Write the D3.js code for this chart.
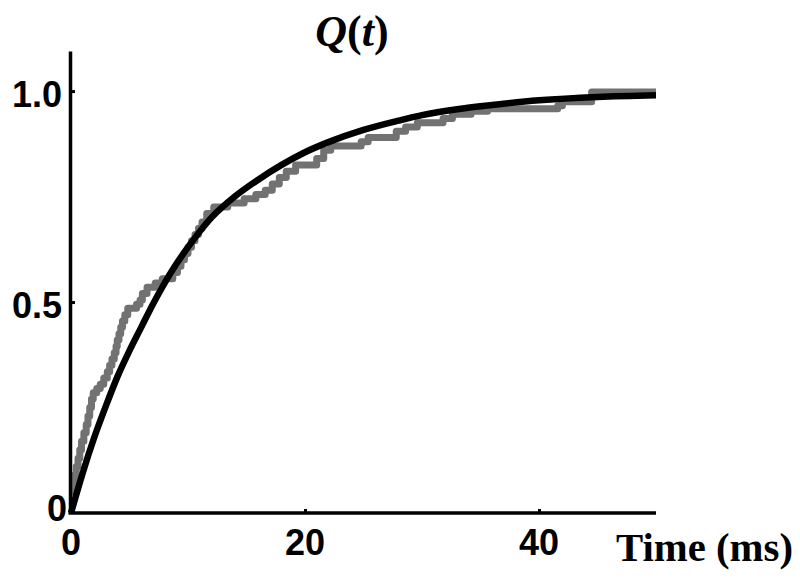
<!DOCTYPE html>
<html>
  <head>
    <script src="https://d3js.org/d3.v7.min.js"></script>
    <style>
      body { margin: 0; background: #fff; }
    </style>
  </head>
  <body>
    <script>

    // fitted curve
    const fitTime = [0, 1, 2, 3, 4, 5, 6, 7, 8, 9, 10, 12, 14, 16, 18, 20, 22, 25, 28, 30, 33, 36, 40, 45, 50];
    const fitQ = [0, 0.095, 0.18, 0.255, 0.325, 0.385, 0.44, 0.495, 0.545, 0.59, 0.63, 0.7, 0.75, 0.79, 0.825, 0.855, 0.879, 0.908, 0.93, 0.943, 0.957, 0.967, 0.978, 0.986, 0.99];

    // empirical distribution, step corners
    const stepTime = [0, 0.15, 0.3, 0.45, 0.6, 0.75, 0.9, 1.1, 1.3, 1.45, 1.6, 1.75, 1.9, 2.2, 2.5, 2.8, 3.1, 3.3, 3.5, 3.7, 3.85, 3.95, 4.1, 4.25, 4.4, 4.6, 4.85, 5.6, 5.9, 6.1, 6.5, 7.2, 7.8, 8.7, 9.1, 9.4, 9.7, 10.0, 10.3, 10.6, 10.9, 11.2, 11.6, 12.2, 13.4, 14.8, 15.8, 16.6, 17.2, 17.8, 18.4, 19.2, 21.0, 21.6, 22.2, 24.8, 25.4, 27.8, 28.6, 29.6, 31.8, 32.6, 34.2, 35.6, 41.6, 42.0, 44.5, 50];
    const stepQ = [0.05, 0.07, 0.09, 0.11, 0.13, 0.15, 0.17, 0.19, 0.21, 0.23, 0.25, 0.27, 0.285, 0.295, 0.305, 0.32, 0.335, 0.35, 0.365, 0.38, 0.395, 0.41, 0.425, 0.44, 0.455, 0.47, 0.485, 0.495, 0.505, 0.52, 0.535, 0.545, 0.555, 0.57, 0.585, 0.6, 0.615, 0.63, 0.645, 0.66, 0.675, 0.69, 0.71, 0.725, 0.735, 0.745, 0.755, 0.765, 0.78, 0.795, 0.81, 0.825, 0.84, 0.86, 0.87, 0.88, 0.89, 0.905, 0.915, 0.925, 0.935, 0.945, 0.952, 0.958, 0.965, 0.975, 0.998, 0.998];

    const xTicks = [0, 20, 40];
    const yTicks = [0, 0.5, 1.0];
    const yTickLabels = ["0", "0.5", "1.0"];

    const width = 800, height = 580;

    const x = d3.scaleLinear().domain([0, 50]).range([71, 656]);
    const y = d3.scaleLinear().domain([0, 1.095]).range([513, 51]);

    const svg = d3.select("body").append("svg")
        .attr("width", width)
        .attr("height", height);

    const fit = fitTime.map((t, i) => [t, fitQ[i]]);
    const steps = stepTime.map((t, i) => [t, stepQ[i]]);

    // gray data first, black fit on top
    svg.append("path")
        .datum(steps)
        .attr("fill", "none")
        .attr("stroke", "#727272")
        .attr("stroke-width", 7)
        .attr("stroke-linejoin", "round")
        .attr("d", d3.line().x(d => x(d[0])).y(d => y(d[1])).curve(d3.curveStepAfter));

    svg.append("path")
        .datum(fit)
        .attr("fill", "none")
        .attr("stroke", "#000")
        .attr("stroke-width", 6.5)
        .attr("d", d3.line().x(d => x(d[0])).y(d => y(d[1])).curve(d3.curveMonotoneX));

    // axes
    const xAxis = svg.append("g")
        .attr("transform", `translate(0,${y(0)})`)
        .call(d3.axisBottom(x).tickValues(xTicks.filter(d => d > 0)).tickSize(-4).tickSizeOuter(0).tickFormat(""));
    const yAxis = svg.append("g")
        .attr("transform", `translate(${x(0) - 1},0)`)
        .call(d3.axisLeft(y).tickValues(yTicks.filter(d => d > 0)).tickSize(-5).tickSizeOuter(0).tickFormat(""));

    [xAxis, yAxis].forEach(g => {
      g.select(".domain").attr("stroke", "#000").attr("stroke-width", 3.5);
      g.selectAll(".tick line").attr("stroke", "#000").attr("stroke-width", 3);
    });
    xAxis.select(".domain").attr("d", `M${x(0) - 2.5},0H${x(50)}`);

    svg.append("g")
        .selectAll("text")
        .data(xTicks)
        .join("text")
        .attr("x", d => x(d))
        .attr("y", 555)
        .attr("text-anchor", "middle")
        .attr("font-family", "'Liberation Sans', Arial, sans-serif")
        .attr("font-weight", "bold")
        .attr("font-size", 36)
        .text(d => d);

    svg.append("g")
        .selectAll("text")
        .data(yTicks)
        .join("text")
        .attr("x", d => d === 0 ? 67 : 62)
        .attr("y", d => y(d) + (d === 0 ? -5 : 3))
        .attr("dy", "0.35em")
        .attr("text-anchor", "end")
        .attr("font-family", "'Liberation Sans', Arial, sans-serif")
        .attr("font-weight", "bold")
        .attr("font-size", 36)
        .text((d, i) => yTickLabels[i]);

    // title
    const title = svg.append("text")
        .attr("x", 352)
        .attr("y", 46)
        .attr("text-anchor", "middle")
        .attr("font-family", "'Liberation Serif', 'Times New Roman', serif")
        .attr("font-weight", "bold")
        .attr("font-size", 44);
    title.append("tspan").attr("font-style", "italic").text("Q");
    title.append("tspan").text("(");
    title.append("tspan").attr("font-style", "italic").text("t");
    title.append("tspan").text(")");

    svg.append("text")
        .attr("x", 616)
        .attr("y", 561)
        .attr("font-family", "'Liberation Serif', 'Times New Roman', serif")
        .attr("font-weight", "bold")
        .attr("font-size", 39)
        .attr("textLength", 177)
        .attr("lengthAdjust", "spacingAndGlyphs")
        .text("Time (ms)");

    </script>
  </body>
</html>
